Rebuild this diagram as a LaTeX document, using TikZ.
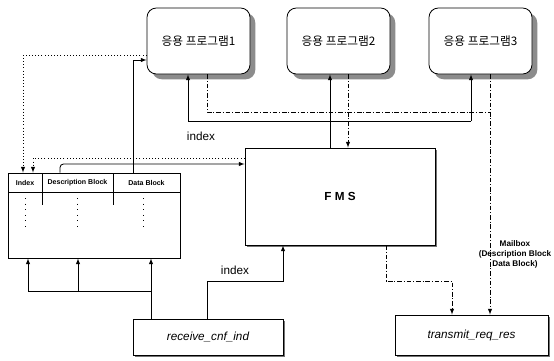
\documentclass[tikz,border=0pt]{standalone}
\usepackage{fontspec}
\setmainfont{Liberation Sans}
\newfontfamily\kr{Noto Sans CJK KR}
\usetikzlibrary{arrows, shadows}

\begin{document}
\begin{tikzpicture}[x=0.03cm, y=-0.03cm, >=latex, line width=0.7pt,
    app/.style={draw, rounded corners=8pt, fill=white, minimum width=3.09cm, minimum height=1.98cm,
      font=\kr\fontsize{10}{12}\selectfont,
      drop shadow={shadow xshift=4.5pt, shadow yshift=-4.5pt, fill=black!45, opacity=1}},
    blk/.style={draw, fill=white, drop shadow={shadow xshift=2pt, shadow yshift=-2pt, fill=black!55, opacity=1}},
    dashdot/.style={dash pattern=on 4pt off 1.6pt on 0.8pt off 1.6pt},
    hdr/.style={font=\bfseries\fontsize{6}{7}\selectfont},
    lbl/.style={font=\fontsize{10}{12}\selectfont}]
  \useasboundingbox (0,0) rectangle (554,361);

  \node[app] (app1) at (198.5,41) {응용 프로그램1};
  \node[app] (app2) at (338.5,41) {응용 프로그램2};
  \node[app] (app3) at (480.5,41) {응용 프로그램3};
  \node[blk, minimum width=5.7cm, minimum height=2.91cm, font=\bfseries\fontsize{10}{12}\selectfont] (fms) at (340,196.5) {F M S};
  \node[draw, minimum width=5.16cm, minimum height=2.55cm] (tbl) at (94,215.5) {};
  \node[blk, minimum width=4.5cm, minimum height=1.08cm, font=\itshape\fontsize{10}{12}\selectfont] (recv) at (208,337) {receive\_cnf\_ind};
  \node[blk, minimum width=4.59cm, minimum height=1.2cm, font=\itshape\fontsize{10}{12}\selectfont] (xmit) at (471.5,335) {transmit\_req\_res};

  \draw (8,192) -- (180,192);
  \draw (42,173) -- (42,205);
  \draw (113,173) -- (113,205);
  \node[hdr] (hidx) at (25,182.5) {Index};
  \node[hdr] (hdesc) at (77.5,182.5) {Description Block};
  \node[hdr] (hdata) at (146.5,182.5) {Data Block};
  \foreach \cx in {25,77,143}
    \draw[loosely dotted, line width=0.8pt] (\cx,198) -- (\cx,230);

  \coordinate (idxL) at (188,121);
  \coordinate (idxM) at (330,121);
  \coordinate (idxR) at (471,121);
  \draw (idxL) -- (idxR);
  \draw[->] (idxL) -- (idxL |- app1.south);
  \draw[->] (idxR) -- (idxR |- app3.south);
  \draw[->] (fms.north -| idxM) -- (app2.south -| idxM);
  \node[lbl] (lidx1) at (201,136) {index};

  \coordinate (mbL) at (207,112);
  \coordinate (mbM) at (348,112);
  \coordinate (mbR) at (490,112);
  \draw[dashdot] (app1.south -| mbL) -- (mbL) -- (mbR);
  \draw[dashdot, ->] (app2.south -| mbM) -- (fms.north -| mbM);
  \draw[dashdot, ->] (app3.south -| mbR) -- (xmit.north -| mbR);
  \node[align=center, font=\bfseries\fontsize{7}{8.5}\selectfont] (mbox) at (515,254) {Mailbox\\(Description Block\\Data Block)};

  \coordinate (fx1) at (386,281);
  \coordinate (fx2) at (452,281);
  \draw[dashdot, ->] (fms.south -| fx1) -- (fx1) -- (fx2) -- (xmit.north -| fx2);

  \coordinate (ri1) at (207,281);
  \coordinate (ri2) at (283,281);
  \draw[->] (recv.north -| ri1) -- (ri1) -- (ri2) -- (fms.south -| ri2);
  \node[lbl] (lidx2) at (235,270) {index};

  \coordinate (rt1) at (28,291);
  \coordinate (rt2) at (78,291);
  \coordinate (rt3) at (151,291);
  \draw[->] (recv.north -| rt3) -- (tbl.south -| rt3);
  \draw (rt3) -- (rt1);
  \draw[->] (rt1) -- (tbl.south -| rt1);
  \draw[->] (rt2) -- (tbl.south -| rt2);

  \coordinate (db) at (133,60);
  \draw[->] (tbl.north -| db) -- (db) -- (app1.west |- db);
  \coordinate (ds) at (60,164);
  \draw[->, rounded corners=3pt] (tbl.north -| ds) -- (ds) -- (fms.west |- ds);
  \coordinate (ia) at (23,55);
  \coordinate (ib) at (33,158);
  \draw[dotted, ->] (app1.west |- ia) -- (ia) -- (tbl.north -| ia);
  \draw[dotted, ->] (fms.west |- ib) -- (ib) -- (tbl.north -| ib);
\end{tikzpicture}
\end{document}
